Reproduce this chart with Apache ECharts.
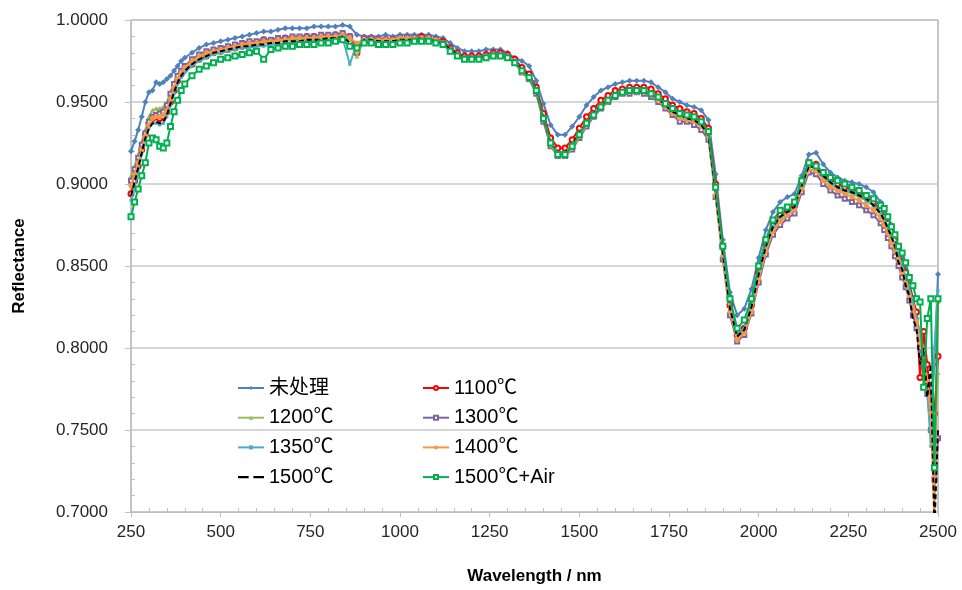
<!DOCTYPE html>
<html>
<head>
<meta charset="utf-8">
<script src="https://cdn.jsdelivr.net/npm/echarts@6.0.0/dist/echarts.min.js"></script>
<style>
html,body{margin:0;padding:0;background:#fff;}
#chart{width:962px;height:590px;}
</style>
</head>
<body>
<div id="chart"></div>
<script>
// ---- data ----
const wavelength = [
250,260,270,280,290,300,310,320,330,340,350,360,370,380,390,400,
420,440,460,480,500,520,540,560,580,600,
620,640,660,680,700,720,740,760,780,800,
820,840,860,880,900,920,940,960,980,1000,
1020,1040,1060,1080,1100,1120,1140,1160,1180,1200,
1220,1240,1260,1280,1300,1320,1340,1360,1380,1400,
1420,1440,1460,1480,1500,1520,1540,1560,1580,1600,
1620,1640,1660,1680,1700,1720,1740,1760,1780,1800,
1820,1840,1860,1880,1900,1920,1940,1960,1980,2000,
2020,2040,2060,2080,2100,2120,2140,2160,2180,2200,
2220,2240,2260,2280,2300,2320,2340,
2350,2360,2370,2380,2390,2400,2410,2420,2430,2440,2450,2460,2470,2480,2490,2500];

const untreated = [
0.920,0.926,0.933,0.941,0.950,0.956,0.957,0.962,0.961,0.962,0.964,0.966,0.969,0.972,0.975,0.977,
0.980,0.983,0.985,0.986,0.987,0.988,0.989,0.990,0.991,0.992,
0.993,0.993,0.994,0.995,0.995,0.995,0.995,0.996,0.996,0.996,
0.996,0.997,0.996,0.991,0.990,0.990,0.990,0.991,0.990,0.991,
0.991,0.991,0.991,0.991,0.990,0.989,0.986,0.983,0.981,0.981,
0.981,0.982,0.982,0.982,0.980,0.977,0.975,0.972,0.963,0.949,
0.936,0.930,0.930,0.935,0.941,0.948,0.953,0.957,0.959,0.961,
0.962,0.963,0.963,0.963,0.962,0.959,0.956,0.952,0.950,0.948,
0.947,0.945,0.939,0.906,0.866,0.834,0.820,0.824,0.836,0.855,
0.872,0.883,0.889,0.892,0.894,0.905,0.918,0.919,0.912,0.907,
0.904,0.902,0.901,0.900,0.898,0.895,0.889,
0.884,0.880,0.875,0.869,0.862,0.855,0.848,0.840,0.830,0.818,0.805,0.790,0.775,0.760,0.790,0.845];

const t1100 = [
0.894,0.902,0.911,0.921,0.930,0.937,0.940,0.941,0.940,0.941,0.944,0.950,0.957,0.963,0.967,0.970,
0.973,0.976,0.978,0.980,0.981,0.982,0.983,0.984,0.985,0.986,
0.988,0.987,0.988,0.989,0.989,0.989,0.990,0.990,0.990,0.990,
0.991,0.991,0.990,0.980,0.989,0.989,0.988,0.988,0.988,0.989,
0.989,0.989,0.990,0.989,0.988,0.987,0.983,0.980,0.978,0.978,
0.978,0.979,0.980,0.980,0.979,0.976,0.971,0.967,0.959,0.943,
0.928,0.922,0.922,0.927,0.934,0.941,0.946,0.951,0.954,0.957,
0.958,0.959,0.959,0.959,0.958,0.955,0.952,0.948,0.946,0.944,
0.943,0.940,0.934,0.900,0.862,0.826,0.808,0.812,0.826,0.846,
0.863,0.875,0.881,0.884,0.887,0.901,0.913,0.912,0.906,0.903,
0.900,0.898,0.897,0.895,0.892,0.889,0.884,
0.880,0.876,0.871,0.866,0.859,0.852,0.846,0.838,0.830,0.822,0.782,0.810,0.790,0.768,0.760,0.795];

const t1200 = [
0.905,0.911,0.918,0.926,0.933,0.941,0.945,0.946,0.946,0.947,0.950,0.956,0.962,0.966,0.969,0.971,
0.974,0.977,0.979,0.980,0.981,0.982,0.983,0.984,0.985,0.985,
0.986,0.986,0.987,0.987,0.988,0.988,0.988,0.989,0.989,0.989,
0.990,0.990,0.989,0.978,0.988,0.988,0.987,0.987,0.987,0.988,
0.988,0.988,0.989,0.988,0.987,0.986,0.982,0.979,0.977,0.977,
0.977,0.978,0.979,0.979,0.978,0.975,0.969,0.966,0.957,0.940,
0.925,0.919,0.919,0.924,0.931,0.938,0.943,0.948,0.952,0.955,
0.956,0.957,0.957,0.957,0.955,0.952,0.948,0.945,0.942,0.941,
0.940,0.937,0.931,0.895,0.858,0.824,0.806,0.810,0.824,0.844,
0.861,0.873,0.879,0.882,0.885,0.899,0.911,0.910,0.904,0.900,
0.897,0.895,0.894,0.892,0.890,0.887,0.882,
0.878,0.873,0.867,0.862,0.856,0.850,0.843,0.835,0.827,0.818,0.806,0.795,0.780,0.765,0.740,0.785];

const t1300 = [
0.902,0.909,0.916,0.924,0.931,0.938,0.941,0.942,0.943,0.944,0.948,0.955,0.961,0.966,0.969,0.972,
0.976,0.979,0.981,0.982,0.983,0.984,0.985,0.986,0.987,0.987,
0.988,0.988,0.989,0.989,0.990,0.990,0.990,0.990,0.991,0.991,
0.991,0.992,0.990,0.984,0.989,0.989,0.988,0.988,0.988,0.989,
0.989,0.989,0.989,0.989,0.988,0.986,0.982,0.979,0.977,0.977,
0.977,0.978,0.979,0.979,0.978,0.974,0.968,0.964,0.955,0.938,
0.923,0.917,0.917,0.921,0.928,0.935,0.941,0.946,0.950,0.953,
0.955,0.955,0.956,0.955,0.953,0.950,0.946,0.942,0.938,0.938,
0.936,0.933,0.927,0.892,0.854,0.820,0.804,0.808,0.821,0.840,
0.857,0.869,0.875,0.879,0.882,0.895,0.907,0.906,0.900,0.896,
0.893,0.891,0.889,0.887,0.884,0.881,0.876,
0.872,0.867,0.862,0.856,0.850,0.843,0.837,0.829,0.820,0.812,0.800,0.790,0.772,0.750,0.720,0.745];

const t1350 = [
0.890,0.898,0.908,0.918,0.927,0.934,0.937,0.937,0.936,0.937,0.941,0.948,0.955,0.961,0.965,0.968,
0.972,0.975,0.977,0.979,0.980,0.981,0.982,0.983,0.983,0.984,
0.984,0.985,0.985,0.986,0.986,0.986,0.987,0.987,0.987,0.988,
0.988,0.989,0.973,0.986,0.987,0.987,0.987,0.987,0.987,0.988,
0.988,0.988,0.989,0.988,0.987,0.986,0.982,0.979,0.977,0.977,
0.977,0.978,0.979,0.979,0.978,0.975,0.969,0.966,0.957,0.940,
0.925,0.919,0.919,0.923,0.931,0.937,0.943,0.948,0.951,0.954,
0.956,0.957,0.957,0.956,0.955,0.952,0.948,0.944,0.942,0.940,
0.939,0.936,0.930,0.895,0.858,0.825,0.808,0.812,0.826,0.845,
0.862,0.874,0.880,0.883,0.886,0.899,0.911,0.910,0.905,0.901,
0.898,0.896,0.895,0.893,0.890,0.887,0.883,
0.879,0.874,0.868,0.863,0.857,0.850,0.843,0.836,0.828,0.818,0.808,0.792,0.775,0.740,0.800,0.835];

const t1400 = [
0.899,0.906,0.913,0.921,0.929,0.936,0.940,0.941,0.941,0.942,0.945,0.952,0.959,0.964,0.968,0.971,
0.975,0.978,0.980,0.981,0.982,0.983,0.984,0.985,0.986,0.986,
0.987,0.987,0.988,0.988,0.989,0.989,0.989,0.989,0.990,0.990,
0.990,0.991,0.989,0.986,0.988,0.988,0.988,0.988,0.988,0.989,
0.989,0.989,0.989,0.989,0.988,0.986,0.982,0.979,0.977,0.977,
0.977,0.978,0.979,0.979,0.978,0.975,0.968,0.965,0.956,0.939,
0.924,0.917,0.917,0.922,0.929,0.936,0.942,0.947,0.950,0.954,
0.955,0.956,0.956,0.956,0.954,0.951,0.947,0.943,0.940,0.939,
0.938,0.935,0.929,0.893,0.856,0.822,0.805,0.809,0.822,0.842,
0.859,0.871,0.877,0.881,0.884,0.897,0.909,0.908,0.902,0.898,
0.896,0.894,0.892,0.890,0.887,0.884,0.879,
0.875,0.870,0.864,0.859,0.853,0.846,0.840,0.832,0.824,0.816,0.803,0.794,0.780,0.760,0.695,0.828];

const t1500 = [
0.893,0.901,0.910,0.919,0.928,0.934,0.937,0.938,0.937,0.938,0.942,0.949,0.956,0.962,0.966,0.969,
0.973,0.976,0.978,0.980,0.981,0.982,0.983,0.984,0.984,0.985,
0.985,0.986,0.986,0.987,0.987,0.987,0.988,0.988,0.988,0.989,
0.989,0.990,0.986,0.982,0.988,0.988,0.987,0.987,0.987,0.988,
0.988,0.988,0.989,0.988,0.987,0.986,0.982,0.979,0.977,0.977,
0.977,0.978,0.979,0.979,0.978,0.975,0.969,0.966,0.957,0.940,
0.925,0.919,0.919,0.924,0.931,0.937,0.943,0.948,0.951,0.954,
0.956,0.957,0.957,0.956,0.955,0.952,0.948,0.944,0.942,0.940,
0.939,0.936,0.930,0.895,0.858,0.824,0.807,0.811,0.825,0.845,
0.862,0.874,0.880,0.883,0.886,0.899,0.911,0.910,0.905,0.901,
0.898,0.896,0.895,0.893,0.891,0.887,0.882,
0.878,0.873,0.868,0.862,0.852,0.848,0.838,0.832,0.818,0.812,0.790,0.800,0.770,0.790,0.690,0.750];

const t1500Air = [
0.880,0.889,0.897,0.905,0.913,0.925,0.928,0.927,0.923,0.922,0.925,0.935,0.944,0.951,0.957,0.961,
0.966,0.970,0.972,0.974,0.976,0.977,0.978,0.979,0.980,0.981,
0.976,0.982,0.983,0.984,0.984,0.985,0.985,0.985,0.986,0.986,
0.987,0.988,0.984,0.983,0.986,0.986,0.985,0.985,0.985,0.986,
0.986,0.987,0.987,0.987,0.986,0.985,0.981,0.978,0.976,0.976,
0.976,0.977,0.978,0.978,0.977,0.974,0.969,0.965,0.957,0.940,
0.925,0.918,0.918,0.923,0.930,0.937,0.942,0.947,0.951,0.954,
0.956,0.957,0.957,0.957,0.955,0.953,0.949,0.946,0.943,0.942,
0.941,0.938,0.932,0.898,0.862,0.830,0.812,0.817,0.830,0.850,
0.866,0.878,0.884,0.886,0.889,0.902,0.913,0.911,0.907,0.904,
0.902,0.900,0.898,0.896,0.893,0.891,0.887,
0.885,0.880,0.874,0.869,0.862,0.858,0.852,0.843,0.838,0.830,0.828,0.776,0.818,0.830,0.727,0.830];

const seriesNames = ['未处理','1100℃','1200℃','1300℃','1350℃','1400℃','1500℃','1500℃+Air'];
const seriesValues = [untreated, t1100, t1200, t1300, t1350, t1400, t1500, t1500Air];
const yTicks = {min: 0.7, max: 1.0, step: 0.05};
const xTicks = {min: 250, max: 2500, step: 250};

// ---- styles ----
const colors  = ['#4F81BD','#FF0000','#9BBB59','#8064A2','#4BACC6','#F79646','#000000','#00B050'];
const symbols = ['diamond','emptyCircle','triangle','emptyRect','rect','circle','none','emptyRect'];
const sizes   = [6,5,5,4,3,5,0,5];
const FONT = "'Liberation Sans', Arial, 'Noto Sans CJK SC', sans-serif";

const series = seriesNames.map((name, k) => ({
  name: name,
  type: 'line',
  xAxisIndex: 0,
  yAxisIndex: 0,
  data: wavelength.map((w, i) => [w, seriesValues[k][i]]),
  symbol: symbols[k],
  symbolSize: sizes[k],
  showSymbol: symbols[k] !== 'none',
  color: colors[k],
  lineStyle: {width: 2, color: colors[k], type: k === 6 ? [5, 3] : 'solid'},
  itemStyle: {color: colors[k], borderWidth: symbols[k].indexOf('empty') === 0 ? 1.2 : 0},
  emphasis: {disabled: true},
  clip: true,
  animation: false,
  z: 2 + k
}));

const legendText = {fontFamily: FONT, fontSize: 20, color: '#000', lineHeight: 22};
const legendCommon = {
  orient: 'vertical', top: 377, itemWidth: 26, itemHeight: 5, itemGap: 7.7,
  textStyle: legendText, selectedMode: false, padding: 0
};
const dashIcon = 'path://M0,0H9V2H0Z M13,0H22V2H13Z';

const option = {
  backgroundColor: '#fff',
  animation: false,
  grid: {left: 131, right: 24, top: 20, bottom: 75, show: true, borderColor: '#8c8c8c', borderWidth: 1, backgroundColor: 'transparent'},
  legend: [
    Object.assign({left: 237, data: [seriesNames[0], seriesNames[2], seriesNames[4], {name: seriesNames[6], icon: dashIcon}]}, legendCommon),
    Object.assign({left: 422, data: [seriesNames[1], seriesNames[3], seriesNames[5], seriesNames[7]]}, legendCommon)
  ],
  xAxis: [
    {
      type: 'value', min: xTicks.min, max: xTicks.max, interval: xTicks.step,
      name: 'Wavelength / nm', nameLocation: 'middle', nameGap: 56,
      nameTextStyle: {fontFamily: FONT, fontSize: 17, fontWeight: 'bold', color: '#000'},
      axisLine: {show: true, lineStyle: {color: '#bfbfbf', width: 1}},
      axisTick: {show: true, length: 5, lineStyle: {color: '#bfbfbf'}},
      axisLabel: {fontFamily: FONT, fontSize: 17, color: '#262626', margin: 12,
                  formatter: v => String(Math.round(v))},
      splitLine: {show: false}
    },
    {
      type: 'value', min: xTicks.min, max: xTicks.max, interval: xTicks.step, position: 'bottom',
      axisLine: {show: false}, axisLabel: {show: false}, splitLine: {show: false},
      axisTick: {show: false, inside: true},
      minorTick: {show: true, splitNumber: 5, length: 4, lineStyle: {color: '#bfbfbf'}}
    }
  ],
  yAxis: [
    {
      type: 'value', min: yTicks.min, max: yTicks.max, interval: yTicks.step,
      name: 'Reflectance', nameLocation: 'middle', nameGap: 103,
      nameTextStyle: {fontFamily: FONT, fontSize: 17, fontWeight: 'bold', color: '#000'},
      axisLine: {show: true, lineStyle: {color: '#bfbfbf', width: 1}},
      axisTick: {show: true, length: 6, lineStyle: {color: '#bfbfbf'}},
      axisLabel: {fontFamily: FONT, fontSize: 17, color: '#262626', margin: 23,
                  formatter: v => v.toFixed(4)},
      splitLine: {show: true, lineStyle: {color: '#c8c8c8', width: 1.5}}
    },
    {
      type: 'value', min: yTicks.min, max: yTicks.max, interval: yTicks.step, position: 'left',
      axisLine: {show: false}, axisLabel: {show: false}, splitLine: {show: false},
      axisTick: {show: false, inside: true},
      minorTick: {show: true, splitNumber: 5, length: 4, lineStyle: {color: '#bfbfbf'}}
    }
  ],
  series: series
};

const chart = echarts.init(document.getElementById('chart'), null, {renderer: 'canvas'});
chart.setOption(option);
</script>
</body>
</html>
